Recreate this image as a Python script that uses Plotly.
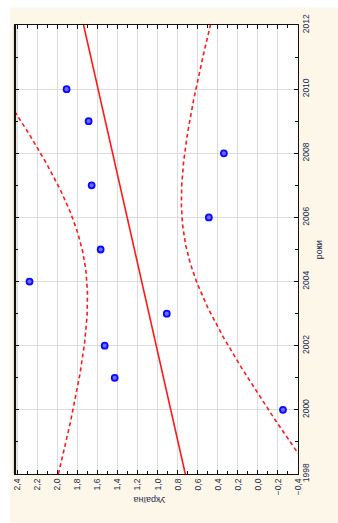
import numpy as np
import plotly.graph_objects as go

# Observations by year
years = [2000, 2001, 2002, 2003, 2004, 2005, 2006, 2007, 2008, 2009, 2010]
values = [-0.25, 1.43, 1.53, 0.91, 2.28, 1.57, 0.49, 1.66, 0.34, 1.69, 1.91]

value_ticks = [-0.4, -0.2, 0.0, 0.2, 0.4, 0.6, 0.8, 1.0, 1.2, 1.4, 1.6, 1.8, 2.0, 2.2, 2.4]
year_ticks = [1998, 2000, 2002, 2004, 2006, 2008, 2010, 2012]

# Linear fit with 95% confidence band for the mean
x = np.array(years, dtype=float)
y = np.array(values, dtype=float)
n = len(x)
slope, intercept = np.polyfit(x, y, 1)
resid = y - (slope * x + intercept)
s = np.sqrt(np.sum(resid ** 2) / (n - 2))
sxx = np.sum((x - x.mean()) ** 2)
T_975_9 = 2.262  # Student t, 9 degrees of freedom

xg = np.linspace(1998, 2012, 300)
fit = slope * xg + intercept
half = T_975_9 * s * np.sqrt(1.0 / n + (xg - x.mean()) ** 2 / sxx)
upper = fit + half
lower = fit - half

RED = "#ff1a1a"
fig = go.Figure()
# The chart is laid out turned a quarter turn: years run upward, values run leftward.
fig.add_trace(go.Scatter(x=upper, y=xg, mode="lines",
                         line=dict(color=RED, width=1.6, dash="4px,3px"),
                         hoverinfo="skip"))
fig.add_trace(go.Scatter(x=lower, y=xg, mode="lines",
                         line=dict(color=RED, width=1.6, dash="4px,3px"),
                         hoverinfo="skip"))
fig.add_trace(go.Scatter(x=fit, y=xg, mode="lines",
                         line=dict(color=RED, width=1.6)))
fig.add_trace(go.Scatter(x=values, y=years, mode="markers",
                         marker=dict(symbol="circle", size=6, color="#6a6aff",
                                     line=dict(color="#0a0aff", width=1.8))))

tick_font = dict(family="Liberation Sans, Arial, sans-serif", size=8.5, color="#1c2a4a")

fig.update_xaxes(
    range=[2.425, -0.4], tickvals=value_ticks, tickformat=".1f", tickangle=-90,
    tickfont=tick_font, showgrid=True, gridcolor="#dcdcdc", gridwidth=1.2,
    zeroline=False, showline=True, linecolor="#111111", linewidth=1.3, mirror="ticks",
    ticks="inside", ticklen=4, tickcolor="#111111",
    minor=dict(dtick=0.1, tick0=0, ticks="inside", ticklen=3, tickcolor="#111111", showgrid=False),
)
fig.update_yaxes(
    range=[1998, 2012], tickvals=year_ticks, tickangle=-90, side="right",
    tickfont=tick_font, showgrid=True, gridcolor="#dcdcdc", gridwidth=1.2,
    zeroline=False, showline=True, linecolor="#111111", linewidth=1.3, mirror="ticks",
    ticks="inside", ticklen=4, tickcolor="#111111",
    minor=dict(dtick=1, tick0=1998, ticks="inside", ticklen=3, tickcolor="#111111", showgrid=False),
)

fig.update_layout(
    width=338, height=523,
    margin=dict(l=13, r=40, t=25, b=49),
    paper_bgcolor="#fdf7ea", plot_bgcolor="#ffffff",
    separators=", ",
    showlegend=False,
    shapes=[
        dict(type="rect", xref="paper", yref="paper", x0=-0.06, x1=-0.0175,
             y0=-0.2, y1=1.2, fillcolor="#ffffff", line=dict(width=0), layer="below"),
        dict(type="rect", xref="paper", yref="paper", x0=-0.06, x1=1.3,
             y0=1.039, y1=1.2, fillcolor="#ffffff", line=dict(width=0), layer="below"),
        dict(type="line", xref="paper", yref="paper", x0=0, x1=0, y0=0, y1=1,
             line=dict(color="#111111", width=2.2)),
    ],
    annotations=[
        dict(text="Україна", xref="paper", yref="paper", x=0.474, y=-0.075,
             textangle=180, showarrow=False,
             font=dict(family="Liberation Sans, Arial, sans-serif", size=9, color="#1c2a4a")),
        dict(text="роки", xref="paper", yref="paper", x=1.098, y=0.5,
             textangle=-90, showarrow=False,
             font=dict(family="Liberation Sans, Arial, sans-serif", size=9, color="#1c2a4a")),
    ],
)

fig.write_html("out.html")
